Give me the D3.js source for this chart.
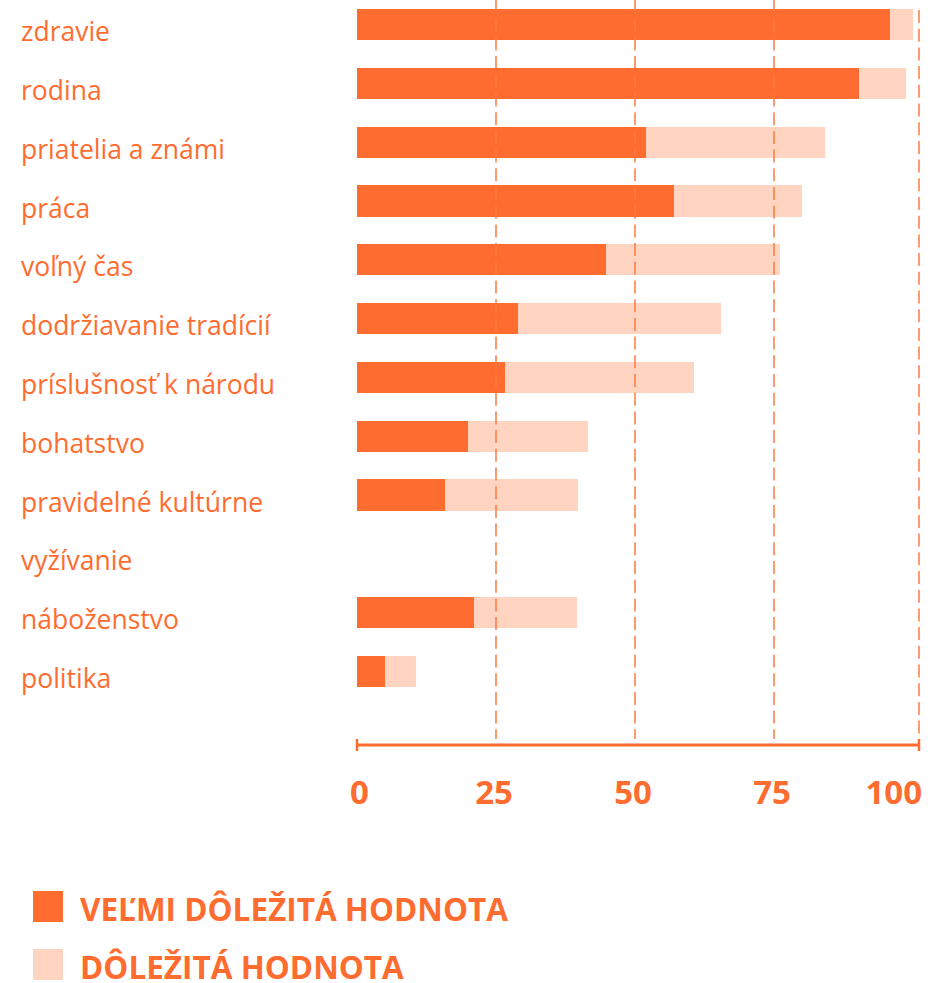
<!DOCTYPE html>
<html>
<head>
<meta charset="utf-8">
<script src="https://cdn.jsdelivr.net/npm/d3@7"></script>
<style>
  html, body { margin: 0; padding: 0; background: #fff; }
  svg { display: block; }
</style>
</head>
<body>
<div id="chart"></div>
<script>
// Categories, top to bottom
const categories = [
  "zdravie",
  "rodina",
  "priatelia a známi",
  "práca",
  "voľný čas",
  "dodržiavanie tradícií",
  "príslušnosť k národu",
  "bohatstvo",
  "pravidelné kultúrne vyžívanie",
  "náboženstvo",
  "politika",
];
// Labels that break onto a second line (take an extra row)
const labelLines = {
  "pravidelné kultúrne vyžívanie": ["pravidelné kultúrne", "vyžívanie"],
};
// Percent of respondents
const veryImportant = [95.9, 90.2, 51.9, 57.1, 44.7, 28.9, 26.7, 20.0, 15.8, 21.1, 5.1];
const important = [4.1, 8.5, 32.2, 22.9, 31.3, 36.5, 34.0, 21.6, 24.0, 18.5, 5.6];
const xTicks = [0, 25, 50, 75, 100];
const seriesNames = ["VEĽMI DÔLEŽITÁ HODNOTA", "DÔLEŽITÁ HODNOTA"];

const colors = ["#ff6c2f", "#ffd4c1"];
const textColor = "#ff6c2f";

const width = 941;
const height = 983;
const axisY = 745;
const edgeShift = 6; // the 100 line sits a little past the end of the scale

// Build rows: each category takes one row per label line
const rows = [];
const data = categories.map((c, i) => {
  const lines = labelLines[c] || [c];
  const row = rows.length;
  lines.forEach((l, j) => rows.push(`${i}-${j}`));
  return { cat: c, lines, row: rows[row], very: veryImportant[i], imp: important[i] };
});

const x = d3.scaleLinear().domain([0, 100]).range([357, 913]);
const y = d3.scaleBand().domain(rows).range([9, 687]).paddingInner(0.47).paddingOuter(0);
const xEdge = (d) => x(d) + (d === 100 ? edgeShift : 0);

const stack = d3.stack().keys(["very", "imp"]);
const series = stack(data);

const svg = d3.select("#chart")
  .append("svg")
  .attr("width", width)
  .attr("height", height)
  .attr("viewBox", [0, 0, width, height])
  .style("font-family", "'Open Sans', sans-serif");

// Bars
svg.append("g")
  .selectAll("g")
  .data(series)
  .join("g")
  .attr("fill", (d, i) => colors[i])
  .selectAll("rect")
  .data((d) => d)
  .join("rect")
  .attr("x", (d) => x(d[0]))
  .attr("width", (d) => x(d[1]) - x(d[0]))
  .attr("y", (d) => y(d.data.row))
  .attr("height", y.bandwidth())
  .attr("shape-rendering", "crispEdges");

// Dashed gridlines (on top of the bars)
svg.append("g")
  .selectAll("line")
  .data(xTicks.filter((t) => t > 0))
  .join("line")
  .attr("x1", xEdge)
  .attr("x2", xEdge)
  .attr("y1", (d) => (d === 100 ? 10 : 0))
  .attr("y2", axisY - 6)
  .attr("stroke", (d) => (d === 100 ? "#ff9b72" : "#ff7a42"))
  .attr("stroke-width", (d) => (d === 100 ? 2 : 1.5))
  .attr("stroke-dasharray", "13,5.7");

// Category labels
const labels = svg.append("g")
  .attr("fill", textColor)
  .style("font-size", "26.5px");

data.forEach((d) => {
  const start = rows.indexOf(d.row);
  d.lines.forEach((line, j) => {
    const r = rows[start + j];
    labels.append("text")
      .attr("x", 21)
      .attr("y", y(r) + y.bandwidth() + 1)
      .text(line);
  });
});

// X axis
const xAxis = d3.axisBottom(x)
  .tickValues(xTicks)
  .tickSizeInner(0)
  .tickSizeOuter(0);

const axisG = svg.append("g")
  .attr("transform", `translate(0,${axisY})`)
  .call(xAxis);

axisG.select(".domain")
  .attr("d", `M${xEdge(0)},0H${xEdge(100)}`)
  .attr("stroke", textColor)
  .attr("stroke-width", 3);

axisG.selectAll(".tick")
  .attr("transform", (d) => `translate(${xEdge(d)},0)`);

axisG.selectAll(".tick text")
  .attr("y", 59)
  .attr("dy", 0)
  .attr("fill", textColor)
  .style("font-family", "'Open Sans', sans-serif")
  .style("font-size", "33px")
  .style("font-weight", 700)
  .attr("text-anchor", (d) => (d === 0 ? "start" : d === 100 ? "end" : "middle"))
  .attr("dx", (d) => (d === 0 ? -7 : d === 100 ? 3 : -2));

// End caps on the axis line
axisG.selectAll(".cap")
  .data(x.domain())
  .join("line")
  .attr("class", "cap")
  .attr("x1", xEdge)
  .attr("x2", xEdge)
  .attr("y1", -6)
  .attr("y2", 6)
  .attr("stroke", textColor)
  .attr("stroke-width", 2.5);

// Legend
const legend = svg.append("g")
  .selectAll("g")
  .data(seriesNames)
  .join("g")
  .attr("transform", (d, i) => `translate(33,${891 + i * 58})`);

legend.append("rect")
  .attr("width", 30)
  .attr("height", 31)
  .attr("fill", (d, i) => colors[i]);

legend.append("text")
  .attr("x", 47)
  .attr("y", 30)
  .attr("fill", textColor)
  .style("font-size", "31.5px")
  .style("font-weight", 700)
  .text((d) => d);
</script>
</body>
</html>
